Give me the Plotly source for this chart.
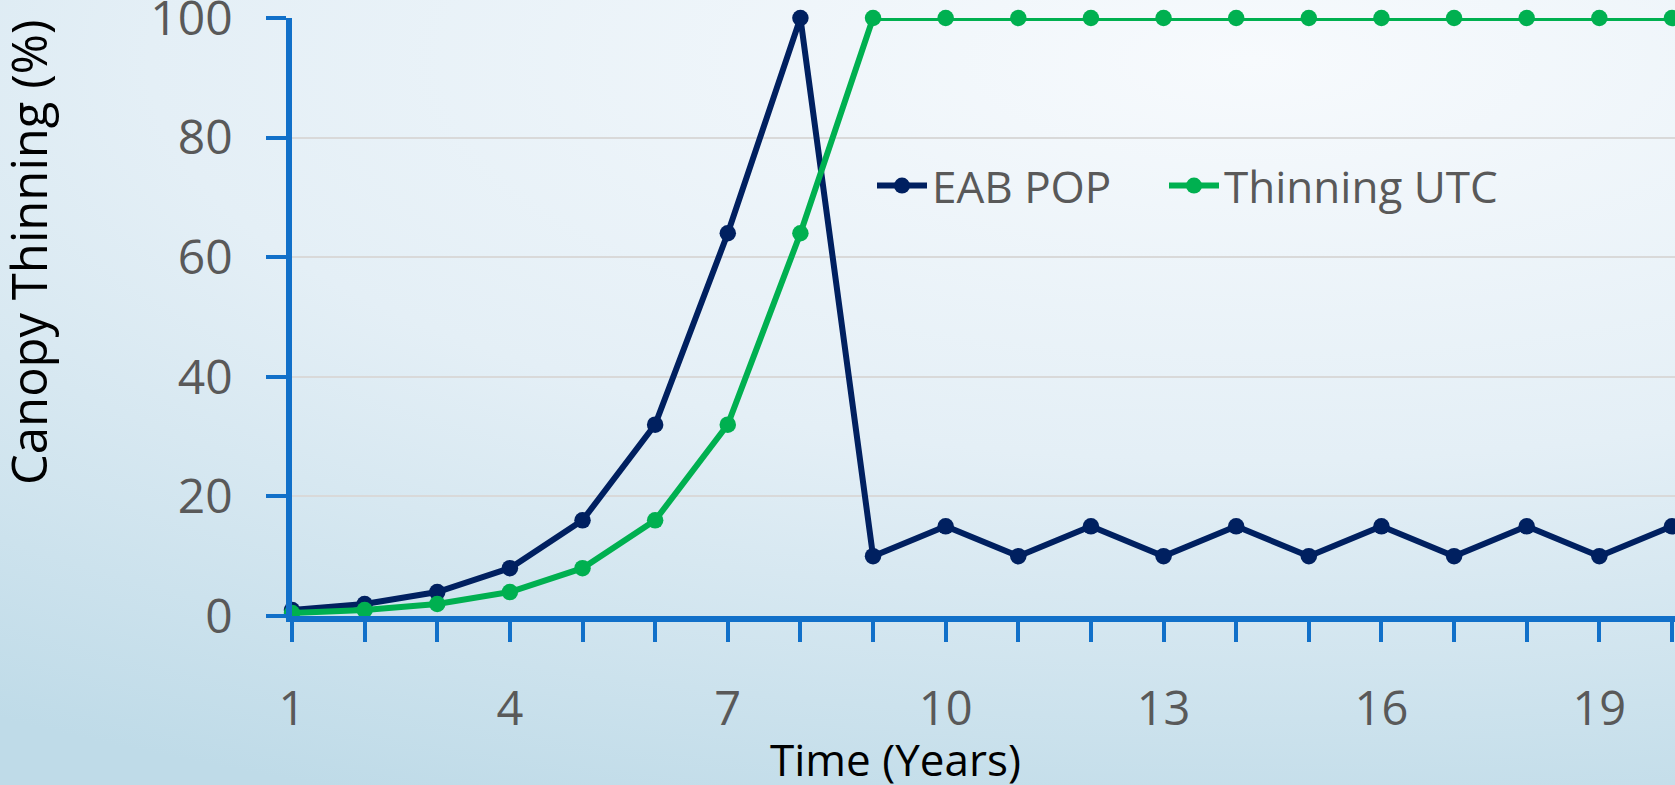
import base64
import plotly.graph_objects as go

# ---- data ----
years = list(range(1, 21))
eab_pop = [1, 2, 4, 8, 16, 32, 64, 100, 10, 15, 10, 15, 10, 15, 10, 15, 10, 15, 10, 15]
thinning_utc = [0.5, 1, 2, 4, 8, 16, 32, 64, 100, 100, 100, 100, 100, 100, 100, 100, 100, 100, 100, 100]
series_names = ["EAB POP", "Thinning UTC"]
series_colors = ["#002060", "#00B050"]
x_tick_vals = [1, 4, 7, 10, 13, 16, 19]
y_tick_vals = [0, 20, 40, 60, 80, 100]
x_title = "Time (Years)"
y_title = "Canopy Thinning (%)"

W, H = 1675, 785
ML, MR, MT, MB = 292, 0, 18, 169
PW, PH = W - ML - MR, H - MT - MB
AXIS = "#1170C9"
TXT = "#595959"
FONT = "Open Sans"

# background gradient (decoration)
svg = (
    f'<svg xmlns="http://www.w3.org/2000/svg" width="{W}" height="{H}">'
    '<defs><radialGradient id="g" cx="0" cy="0" r="1" gradientUnits="userSpaceOnUse" '
    'gradientTransform="translate(1250 60) scale(2200 800)">'
    '<stop offset="0" stop-color="#f7fafd"/>'
    '<stop offset="0.5" stop-color="#e4eff6"/>'
    '<stop offset="1" stop-color="#bfdbe8"/>'
    '</radialGradient></defs>'
    f'<rect width="{W}" height="{H}" fill="url(#g)"/></svg>'
)
bg_src = "data:image/svg+xml;base64," + base64.b64encode(svg.encode()).decode()

legend_ids = ["legend", "legend2"]
legend_left_px = [872, 1164]

fig = go.Figure()
for name, vals, col, lg in zip(series_names, [eab_pop, thinning_utc], series_colors, legend_ids):
    fig.add_trace(go.Scatter(
        x=years, y=vals, name=name, mode="lines+markers",
        line=dict(color=col, width=6),
        marker=dict(color=col, size=16.5),
        cliponaxis=False, legend=lg,
    ))

x_max = 1 + PW / 72.63


def legend_cfg(px):
    return dict(
        orientation="h", x=(px - ML) / PW, xanchor="left",
        y=(MT + PH - 186) / PH, yanchor="middle",
        bgcolor="rgba(0,0,0,0)", font=dict(size=44, color=TXT, family=FONT),
        itemwidth=50,
    )


fig.update_layout(
    width=W, height=H,
    margin=dict(l=ML, r=MR, t=MT, b=MB, pad=0, autoexpand=False),
    paper_bgcolor="#e4eff6",
    plot_bgcolor="rgba(0,0,0,0)",
    font=dict(family=FONT, color=TXT),
    showlegend=True,
    legend=legend_cfg(legend_left_px[0]),
    legend2=legend_cfg(legend_left_px[1]),
    images=[dict(
        source=bg_src, xref="paper", yref="paper",
        x=-ML / PW, y=1 + MT / PH, sizex=W / PW, sizey=H / PH,
        xanchor="left", yanchor="top", sizing="stretch", layer="below",
    )],
    xaxis=dict(
        range=[1, x_max], tickvals=x_tick_vals, ticktext=[str(v) for v in x_tick_vals],
        showgrid=False, zeroline=False, automargin=False,
        showline=True, linecolor=AXIS, linewidth=5.5,
        ticks="outside", ticklen=20, tickwidth=4, tickcolor=AXIS,
        minor=dict(dtick=1, tick0=1, ticks="outside", ticklen=20, tickwidth=4, tickcolor=AXIS, showgrid=False),
        tickfont=dict(size=47, color=TXT, family=FONT),
        ticklabelstandoff=27, ticklabeloverflow="allow",
    ),
    yaxis=dict(
        range=[0, 100], tickvals=y_tick_vals, ticktext=[str(v) for v in y_tick_vals],
        showgrid=True, gridcolor="#D9D9D9", gridwidth=1.5, zeroline=False, automargin=False,
        showline=True, linecolor=AXIS, linewidth=5.5,
        ticks="outside", ticklen=20, tickwidth=4, tickcolor=AXIS,
        tickfont=dict(size=48, color=TXT, family=FONT),
        ticklabelstandoff=24, ticklabeloverflow="allow",
    ),
    annotations=[
        dict(text=x_title, xref="paper", yref="paper", x=(895 - ML) / PW, y=(MT + PH - 759) / PH,
             xanchor="center", yanchor="middle", showarrow=False,
             font=dict(size=44, color="#000000", family=FONT)),
        dict(text=y_title, xref="paper", yref="paper", x=(28 - ML) / PW, y=(MT + PH - 252) / PH,
             xanchor="center", yanchor="middle", showarrow=False, textangle=-90,
             font=dict(size=49, color="#000000", family=FONT)),
    ],
)

fig.write_html(
    "out.html",
    config={"displayModeBar": False},
    post_script="document.body.style.margin='0';document.body.style.overflow='hidden';",
)
